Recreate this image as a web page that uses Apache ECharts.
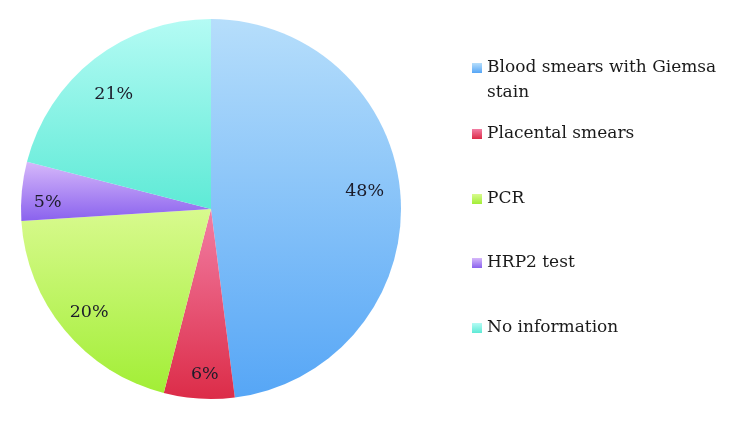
<!DOCTYPE html>
<html>
<head>
<meta charset="utf-8">
<script src="https://cdn.jsdelivr.net/npm/echarts@6/dist/echarts.min.js"></script>
<style>
html,body{margin:0;padding:0;background:#fff;}
#chart{width:739px;height:421px;}
</style>
</head>
<body>
<div id="chart"></div>
<script>
const categories = ['Blood smears with Giemsa stain', 'Placental smears', 'PCR', 'HRP2 test', 'No information'];
const values = [48, 6, 20, 5, 21];
const topColors = ['#b6defb', '#f27ea4', '#d8fa8e', '#d6b8fa', '#b4fbf4'];
const bottomColors = ['#56a6f6', '#dc2c48', '#a2ee36', '#8a62ee', '#5eead6'];
const legendTops = [30.5, 121.5, 186.5, 250.5, 315.5];
const labelOffsets = [[-8, -7], [4, 4], [3, 0], [-2, 9], [2, 13]];

const FONT = 'DejaVu Serif';
const grad = (i) => new echarts.graphic.LinearGradient(0, 0, 0, 1, [
  {offset: 0, color: topColors[i]},
  {offset: 1, color: bottomColors[i]}
]);

const data = categories.map((c, i) => ({
  name: c,
  value: values[i],
  itemStyle: {color: grad(i)}
}));

const chart = echarts.init(document.getElementById('chart'), null, {renderer: 'canvas'});
const option = {
  animation: false,
  backgroundColor: '#ffffff',
  legend: categories.map((c, i) => ({
    orient: 'vertical',
    left: 472,
    top: legendTops[i],
    padding: 0,
    data: [c],
    itemWidth: 10,
    itemHeight: 10,
    icon: 'rect',
    selectedMode: false,
    formatter: (name) => name === categories[0] ? ' \nBlood smears with Giemsa\nstain' : name,
    textStyle: {
      fontFamily: FONT, fontSize: 17, color: '#1a1a1a', lineHeight: 25
    }
  })),
  series: [
    {
      type: 'pie',
      center: [211, 209],
      radius: [0, 190],
      startAngle: 90,
      clockwise: true,
      data: data,
      label: {show: false},
      labelLine: {show: false},
      itemStyle: {borderWidth: 0},
      emphasis: {disabled: true}
    },
    {
      type: 'pie',
      center: [211, 209],
      radius: [128, 190],
      startAngle: 90,
      clockwise: true,
      silent: true,
      data: categories.map((c, i) => ({name: c, value: values[i], label: {offset: labelOffsets[i]}})),
      itemStyle: {color: 'rgba(0,0,0,0)', borderWidth: 0},
      label: {
        show: true,
        position: 'inside',
        formatter: '{c}%',
        fontFamily: FONT,
        fontSize: 17.5,
        color: '#1c1c2a'
      },
      labelLine: {show: false},
      emphasis: {disabled: true}
    }
  ]
};
chart.setOption(option);
</script>
</body>
</html>
